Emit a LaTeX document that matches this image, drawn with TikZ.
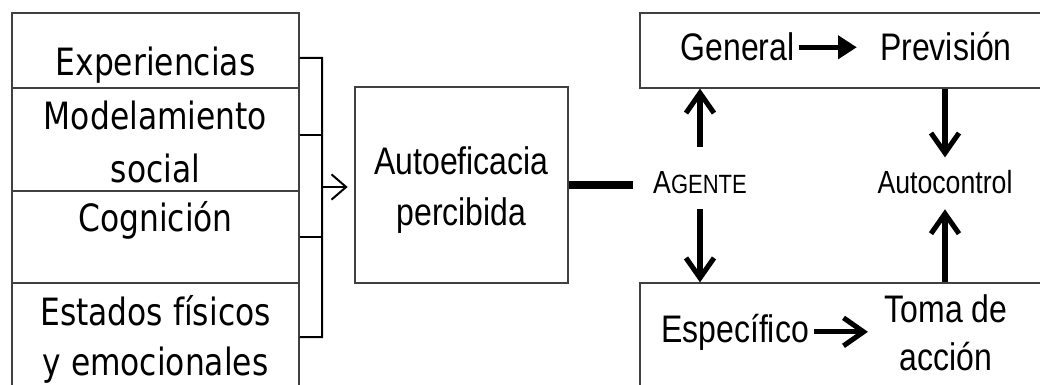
\documentclass[tikz,border=0pt]{standalone}
\usepackage{fontspec}
\setmainfont{Liberation Sans}
\newfontfamily\dejavu{DejaVu Sans}
\usepackage{tikz}
\usetikzlibrary{arrows.meta, calc}

% text in the figure is drawn a little taller than wide
\newcommand{\tall}[1]{\scalebox{1}[1.2]{#1}}

\begin{document}
\begin{tikzpicture}[
    x=0.75pt, y=-0.75pt,
    box/.style={draw=black!75, line width=1pt, inner sep=0pt},
    source/.style={box, minimum width=215.25pt},
    srctext/.style={anchor=base, font=\dejavu\fontsize{23.5}{28}\selectfont},
    txt/.style={anchor=base, font=\fontsize{24}{28}\selectfont},
    mid/.style={anchor=base, text height=14.5pt, text depth=0pt, inner ysep=12pt, font=\fontsize{20}{24}\selectfont},
    bracket/.style={line width=1.5pt},
    thick arrow/.style={line width=3.8pt, -{Straight Barb[length=15pt, width=21pt]}}
]
    \useasboundingbox (0,0) rectangle (1040,385);

    % Sources of self-efficacy, stacked on the left:
    \node[source, minimum height=56.25pt] (exp) at (155.5,50.5) {};
    \node[source, minimum height=77.25pt] (mod) at (155.5,139.5) {};
    \node[source, minimum height=69pt] (cog) at (155.5,237) {};
    \node[source, minimum height=81pt] (est) at (155.5,337) {};
    \node[srctext] (expT) at (155.5,76) {\tall{Experiencias}};
    \node[srctext] (modT) at (155.5,130) {\tall{Modelamiento}};
    \node[srctext] (socT) at (155.5,182) {\tall{social}};
    \node[srctext] (cogT) at (155.5,231) {\tall{Cognición}};
    \node[srctext] (estT) at (155.5,325) {\tall{Estados físicos}};
    \node[srctext] (emoT) at (155.5,375) {\tall{y emocionales}};

    \node[box, minimum width=159.75pt, minimum height=147pt] (auto) at (461.5,185) {};
    \node[txt] (autoT) at (461.5,175) {\tall{Autoeficacia}};
    \node[txt] (perT) at (461.5,225) {\tall{percibida}};

    \node[box, minimum width=322.5pt, minimum height=56.25pt] (topbox) at (855,50.5) {};
    \node[box, minimum width=322.5pt, minimum height=87.75pt] (botbox) at (855,341.5) {};
    \node[txt] (gen) at (737.5,61) {\tall{General}};
    \node[txt] (prev) at (946,61) {\tall{Previsión}};
    \node[txt] (esp) at (735,342) {\tall{Específico}};
    \node[txt] (toma) at (946,322) {\tall{Toma de}};
    \node[txt] (accion) at (946,370) {\tall{acción}};

    \node[mid, inner xsep=15pt, text height=22pt] (agente) at (700,193)
        {\tall{A{\fontsize{16.5}{20}\selectfont GENTE}}};
    \node[mid] (autoc) at (945,193) {\tall{Autocontrol}};

    % bracket joining the four sources
    \coordinate (jtop) at (322,58);
    \coordinate (jbot) at (322,337);
    \coordinate (jmid) at (322,187);
    \draw[bracket] ([yshift=-5.6pt]exp.east) -- (jtop) -- (jbot) -- (est.east);
    \draw[bracket] ([yshift=3.4pt]mod.east) -- ++(23,0);
    \draw[bracket] (cog.east) -- (cog.east -| jtop);
    \draw[bracket, -{Straight Barb[length=11pt, width=19pt]}, shorten >=5pt] (jmid) -- (jmid -| auto.west);

    \draw[line width=5.5pt] (auto.east) -- (auto.east -| agente.west);

    \draw[thick arrow] (agente.north) -- (agente.north |- topbox.south);
    \draw[thick arrow] (agente.south) -- (agente.south |- botbox.north);
    \draw[thick arrow] (autoc.north |- topbox.south) -- (autoc.north);
    \draw[thick arrow] (autoc.south |- botbox.north) -- (autoc.south);
    \draw[line width=3.8pt, -{Triangle[length=14pt, width=17pt]}, shorten >=14pt] (gen.east) -- (gen.east -| prev.west);
    \draw[thick arrow, shorten >=9pt] (esp.east) -- (esp.east -| toma.west);
\end{tikzpicture}
\end{document}
